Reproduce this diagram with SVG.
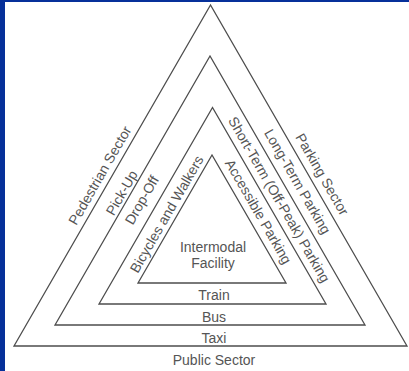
<svg xmlns="http://www.w3.org/2000/svg" width="409" height="371" viewBox="0 0 409 371">
<style>
.tri{fill:none;stroke:#4d4d4d;stroke-width:1.3;stroke-linejoin:miter}
.lbl{font-family:"Liberation Sans",Arial,sans-serif;font-size:14px;fill:#555;text-anchor:middle}
</style>
<rect x="0" y="0" width="409" height="371" fill="#ffffff"/>
<rect x="0" y="0" width="409" height="2" fill="#06309a"/>
<rect x="0" y="0" width="5" height="371" fill="#06309a"/>
<g id="connectors">
<polygon id="outer-tri" class="tri" points="210.5,5 14,346 407,346"/>
<polygon id="second-tri" class="tri" points="210,56 55,325 365,325"/>
<polygon id="third-tri" class="tri" points="212.5,107.5 99,304 326,304"/>
<polygon id="inner-tri" class="tri" points="212,155 138,283 286,283"/>
</g>
<g id="intermodal-facility">
<text class="lbl" x="213" y="252">Intermodal</text>
<text class="lbl" x="213" y="268">Facility</text>
</g>
<g id="public-sector"><text class="lbl" x="214" y="365">Public Sector</text></g>
<g id="taxi"><text class="lbl" x="214" y="343">Taxi</text></g>
<g id="bus"><text class="lbl" x="214" y="322">Bus</text></g>
<g id="train"><text class="lbl" x="214" y="300">Train</text></g>
<g id="pedestrian-sector"><text class="lbl" transform="translate(99.7,175.3) rotate(-60)" y="5">Pedestrian Sector</text></g>
<g id="pick-up"><text class="lbl" transform="translate(121.6,192.7) rotate(-60)" y="5">Pick-Up</text></g>
<g id="drop-off"><text class="lbl" transform="translate(141.7,200) rotate(-60)" y="5">Drop-Off</text></g>
<g id="bicycles-walkers"><text class="lbl" transform="translate(166.6,214) rotate(-60)" y="5">Bicycles and Walkers</text></g>
<g id="parking-sector"><text class="lbl" transform="translate(322.3,174.2) rotate(60)" y="5">Parking Sector</text></g>
<g id="long-term-parking"><text class="lbl" transform="translate(297.6,181.5) rotate(60)" y="5">Long-Term Parking</text></g>
<g id="short-term-parking"><text class="lbl" transform="translate(279.3,199.6) rotate(60)" y="5">Short-Term (Off-Peak) Parking</text></g>
<g id="accessible-parking"><text class="lbl" transform="translate(258.5,211.6) rotate(60)" y="5">Accessible Parking</text></g>
</svg>
